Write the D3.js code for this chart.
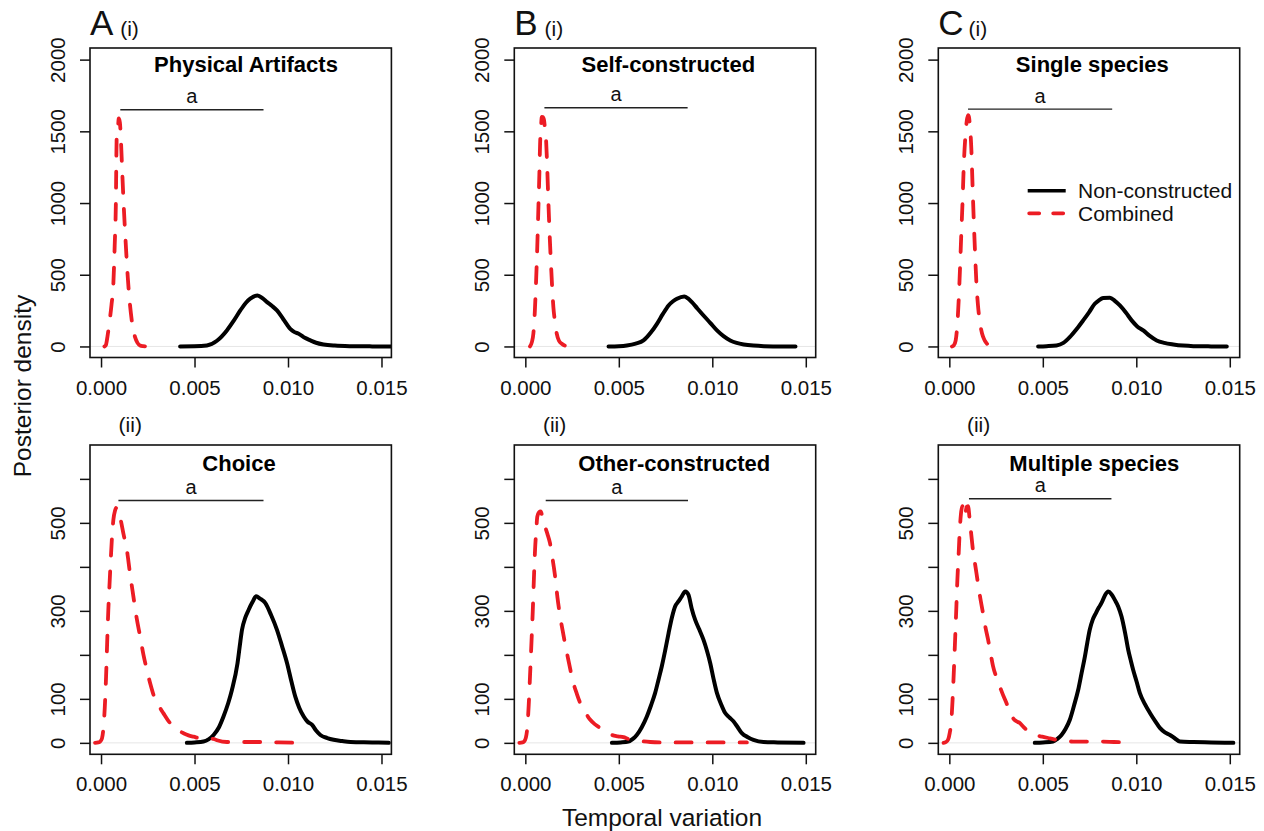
<!DOCTYPE html>
<html>
<head>
<meta charset="utf-8">
<script src="https://cdn.jsdelivr.net/npm/d3@7"></script>
<style>
  html, body { margin: 0; padding: 0; background: #fff; }
  svg { display: block; font-family: "Liberation Sans", Arial, Helvetica, sans-serif; }
</style>
</head>
<body>
<svg id="chart" width="1264" height="831"></svg>
<script>
// ---------------- DATA ----------------
const xTicks = [0, 0.005, 0.010, 0.015];
const yTicksTop = [0, 500, 1000, 1500, 2000];
const yTicksBottom = [0, 100, 200, 300, 400, 500, 600];
const yLabelsBottom = [0, 100, 300, 500];

const panelLetters = ["A", "B", "C"];
const rowTags = ["(i)", "(ii)"];
const titlesTop = ["Physical Artifacts", "Self-constructed", "Single species"];
const titlesBottom = ["Choice", "Other-constructed", "Multiple species"];
const seriesNames = ["Non-constructed", "Combined"];
const xTitle = "Temporal variation";
const yTitle = "Posterior density";
const sigLetter = "a";

// Combined (red dashed) posterior densities: [x, density]
const combinedA1 = [[0.00018,0],[0.00026,10],[0.00034,65],[0.00044,160],[0.00056,290],[0.00066,438],[0.00073,700],[0.00079,973],[0.00084,1462],[0.00088,1475],[0.00095,1590],[0.00101,1560],[0.00107,1420],[0.00113,1230],[0.0012,1020],[0.00132,720],[0.00143,484],[0.00152,330],[0.0016,228],[0.0017,130],[0.00182,65],[0.00195,25],[0.00209,7],[0.00225,2],[0.00245,0]];
const combinedB1 = [[0.00025,0],[0.00035,30],[0.00043,89],[0.00051,250],[0.00057,438],[0.00064,700],[0.0007,973],[0.00075,1200],[0.00079,1415],[0.00084,1530],[0.00088,1601],[0.00094,1600],[0.001,1578],[0.00105,1520],[0.00111,1438],[0.00117,1250],[0.00123,1020],[0.0013,780],[0.00138,554],[0.00144,400],[0.0015,274],[0.00159,170],[0.00168,89],[0.0018,40],[0.00195,19],[0.0021,7],[0.0023,2],[0.00275,0]];
const combinedC1 = [[0.00014,0],[0.00025,10],[0.00034,42],[0.00042,140],[0.0005,321],[0.00057,540],[0.00064,787],[0.00071,1020],[0.00077,1253],[0.00087,1485],[0.00093,1570],[0.001,1613],[0.00105,1600],[0.00109,1555],[0.00118,1369],[0.00124,1130],[0.0013,904],[0.00138,640],[0.00145,438],[0.00153,290],[0.00162,182],[0.00175,90],[0.00189,42],[0.00205,15],[0.00225,5],[0.00269,0]];
const combinedA2 = [[-0.00032,0],[-0.00015,1],[-0.00005,3],[0.00005,10],[0.00012,30],[0.0002,80],[0.00027,151],[0.00033,230],[0.00039,302],[0.00046,365],[0.00052,416],[0.00059,470],[0.00066,507],[0.00075,528],[0.00084,535],[0.00093,525],[0.00105,507],[0.0012,475],[0.00138,439],[0.00155,385],[0.00173,333],[0.0019,285],[0.00209,242],[0.00227,200],[0.00245,166],[0.00265,132],[0.00284,105],[0.00308,85],[0.00334,67],[0.0036,50],[0.00388,37],[0.00415,28],[0.00441,22],[0.00468,17],[0.00495,14],[0.0053,10],[0.00566,8],[0.006,9],[0.0062,6],[0.00673,2],[0.0075,2],[0.00852,2],[0.0095,1],[0.01102,0]];
const combinedB2 = [[-0.00032,0],[-0.00015,1],[-0.00007,3],[0.00003,12],[0.00011,37],[0.00018,85],[0.00025,151],[0.00033,230],[0.0004,302],[0.00046,375],[0.00052,439],[0.00058,480],[0.00064,514],[0.00073,524],[0.00082,526],[0.00093,510],[0.00105,492],[0.00118,475],[0.00132,454],[0.00145,420],[0.00159,379],[0.00172,330],[0.00186,288],[0.00204,245],[0.00222,205],[0.0024,168],[0.00257,136],[0.00275,112],[0.00293,91],[0.0032,70],[0.00346,53],[0.00373,42],[0.004,34],[0.0043,26],[0.00463,18],[0.00495,15],[0.00525,13],[0.0055,9],[0.00578,7],[0.0062,4],[0.00668,2],[0.0075,1],[0.00864,1],[0.01,1],[0.01185,1]];
const combinedC2 = [[-0.00031,0],[-0.00018,2],[-0.00007,7],[0.00002,22],[0.00011,52],[0.00017,95],[0.00023,151],[0.0003,225],[0.00037,302],[0.00043,370],[0.0005,431],[0.00056,485],[0.00062,520],[0.0007,538],[0.00077,530],[0.00084,515],[0.00092,536],[0.001,538],[0.00109,507],[0.00117,475],[0.00126,439],[0.0014,400],[0.00153,363],[0.00166,328],[0.0018,295],[0.00193,263],[0.00207,235],[0.0022,205],[0.00234,174],[0.00251,150],[0.00269,129],[0.00287,109],[0.00305,91],[0.00323,72],[0.00341,56],[0.00359,49],[0.00377,45],[0.00395,37],[0.00412,30],[0.00439,22],[0.00466,17],[0.00497,14],[0.00528,11],[0.0056,8],[0.00591,6],[0.00625,4],[0.00662,3],[0.0073,3],[0.00805,3],[0.0088,2],[0.00948,1]];

// Non-constructed (black solid) posterior densities: [x, density]
const nonConA1 = [[0.00423,0],[0.005,1],[0.00566,7],[0.0062,40],[0.00673,112],[0.0071,180],[0.00745,251],[0.00775,305],[0.00798,333],[0.00837,356],[0.00865,335],[0.00888,309],[0.00915,282],[0.00941,251],[0.00975,190],[0.01012,123],[0.01035,100],[0.01057,89],[0.0109,60],[0.0112,42],[0.0115,26],[0.0119,14],[0.0125,6],[0.01334,2],[0.0145,0.5],[0.0158,0]];
const nonConB1 = [[0.00445,0],[0.005,2],[0.00543,7],[0.0059,20],[0.00632,42],[0.0067,95],[0.00704,158],[0.00735,225],[0.00766,286],[0.0079,315],[0.00811,333],[0.0085,349],[0.0087,335],[0.00891,309],[0.0092,265],[0.00953,216],[0.0099,163],[0.01025,112],[0.0106,72],[0.01096,42],[0.0113,25],[0.01168,14],[0.0122,6],[0.01275,2],[0.0135,0.5],[0.01445,0]];
const nonConC1 = [[0.00475,0],[0.0052,2],[0.00573,7],[0.0061,25],[0.00644,65],[0.0068,120],[0.00716,182],[0.00748,240],[0.00778,298],[0.008,322],[0.00823,338],[0.00859,340],[0.00885,318],[0.00912,286],[0.00945,235],[0.00975,182],[0.01005,140],[0.01037,112],[0.0107,75],[0.01109,42],[0.0115,25],[0.01198,14],[0.0125,6],[0.01305,2],[0.014,0.5],[0.01484,0]];
const nonConA2 = [[0.00459,0],[0.005,1],[0.00548,3],[0.00575,8],[0.00602,18],[0.0063,35],[0.00655,60],[0.0068,90],[0.007,120],[0.0073,181],[0.00745,230],[0.00754,257],[0.00772,285],[0.00789,302],[0.0081,320],[0.0083,333],[0.0085,328],[0.00878,318],[0.0091,290],[0.00941,257],[0.00968,220],[0.00995,181],[0.01018,140],[0.01039,105],[0.0106,80],[0.01084,60],[0.01105,48],[0.01129,41],[0.0115,28],[0.01173,18],[0.0121,11],[0.01244,7],[0.0129,4],[0.01334,2],[0.0145,1],[0.01539,0]];
const nonConB2 = [[0.00463,0],[0.0051,1],[0.00551,3],[0.00575,9],[0.00596,18],[0.00622,35],[0.0065,60],[0.00672,85],[0.00694,113],[0.00712,143],[0.0073,174],[0.00748,210],[0.00766,249],[0.00784,285],[0.00801,310],[0.0082,322],[0.00837,333],[0.00855,344],[0.00864,342],[0.00873,336],[0.0089,305],[0.00908,280],[0.0093,258],[0.00953,234],[0.00971,210],[0.00989,181],[0.01007,145],[0.01025,113],[0.01047,88],[0.01069,68],[0.01091,58],[0.01113,49],[0.01135,36],[0.01158,22],[0.0119,13],[0.0122,7],[0.01274,2],[0.0135,1],[0.01488,0]];
const nonConC2 = [[0.00457,0],[0.005,1],[0.00555,3],[0.00578,9],[0.006,18],[0.00622,32],[0.00644,52],[0.00667,85],[0.00689,120],[0.00707,158],[0.00725,196],[0.00738,228],[0.00751,257],[0.00767,280],[0.00784,295],[0.008,308],[0.00814,318],[0.00832,335],[0.0085,344],[0.00867,338],[0.00885,325],[0.00903,310],[0.00921,287],[0.0094,250],[0.00957,211],[0.0097,188],[0.00983,166],[0.01001,140],[0.01019,113],[0.01046,88],[0.01073,68],[0.011,50],[0.01126,34],[0.01153,24],[0.0118,18],[0.01207,10],[0.01233,3],[0.01305,2],[0.014,1],[0.01519,0]];

// Significance bars: [x start, x end, density level]
const sigBarsTop = [[0.00103,0.00869,1650],[0.00102,0.00868,1664],[0.00100,0.00871,1655]];
const sigBarsBottom = [[0.00093,0.00869,551],[0.00109,0.00870,551],[0.00105,0.00867,555]];

// ---------------- LAYOUT ----------------
const FONT = '"Liberation Sans", Arial, Helvetica, sans-serif';
const RED = "#ec1c24";
const DASH = "16,16";
const colLeft = [90, 514.3, 938.3];
const boxW = 301.4;
const rows = [
  { top: 48, bottom: 357.5, yDomain: [-77, 2081], ticks: yTicksTop, labels: yTicksTop,
    titles: titlesTop, titleBase: 71.7, titleDx: [156, 154, 154],
    combined: [combinedA1, combinedB1, combinedC1], nonCon: [nonConA1, nonConB1, nonConC1],
    bars: sigBarsTop, tagBase: 35.6, tagDx: 30.2 },
  { top: 445, bottom: 754.3, yDomain: [-26, 677], ticks: yTicksBottom, labels: yLabelsBottom,
    titles: titlesBottom, titleBase: 471, titleDx: [149, 160, 156],
    combined: [combinedA2, combinedB2, combinedC2], nonCon: [nonConA2, nonConB2, nonConC2],
    bars: sigBarsBottom, tagBase: 432.3, tagDx: 28.6 }
];
const xDomain = [-0.00059, 0.01553];

const svg = d3.select("#chart");
const defs = svg.append("defs");
const fmt = d3.format(".3f");

rows.forEach((row, r) => {
  colLeft.forEach((left, c) => {
    const x = d3.scaleLinear().domain(xDomain).range([left, left + boxW]);
    const y = d3.scaleLinear().domain(row.yDomain).range([row.bottom, row.top]);
    const g = svg.append("g");
    const clipId = `clip-${r}-${c}`;
    defs.append("clipPath").attr("id", clipId)
      .append("rect").attr("x", left).attr("y", row.top)
      .attr("width", boxW).attr("height", row.bottom - row.top);

    // zero reference line
    g.append("line")
      .attr("x1", left).attr("x2", left + boxW)
      .attr("y1", y(0)).attr("y2", y(0))
      .attr("stroke", "#e6e6e6").attr("stroke-width", 1);

    // curves
    const line = d3.line().x(d => x(d[0])).y(d => y(d[1])).curve(d3.curveMonotoneX);
    const cg = g.append("g").attr("clip-path", `url(#${clipId})`);
    cg.append("path").datum(row.nonCon[c]).attr("d", line)
      .attr("fill", "none").attr("stroke", "#000").attr("stroke-width", 4)
      .attr("stroke-linejoin", "round").attr("stroke-linecap", "round");
    cg.append("path").datum(row.combined[c]).attr("d", line)
      .attr("fill", "none").attr("stroke", RED).attr("stroke-width", 3.8)
      .attr("stroke-dasharray", DASH)
      .attr("stroke-linejoin", "round").attr("stroke-linecap", "round");

    // box
    g.append("rect").attr("x", left).attr("y", row.top)
      .attr("width", boxW).attr("height", row.bottom - row.top)
      .attr("fill", "none").attr("stroke", "#111").attr("stroke-width", 1.6);

    // x axis
    const xAxis = d3.axisBottom(x).tickValues(xTicks).tickFormat(fmt)
      .tickSize(10).tickPadding(12.5);
    const xg = svg.append("g").attr("transform", `translate(0,${row.bottom})`).call(xAxis);
    xg.select(".domain").remove();
    xg.selectAll(".tick line").attr("stroke", "#111").attr("stroke-width", 1.5);
    xg.selectAll(".tick text").attr("font-size", 20.5).attr("font-family", FONT).attr("fill", "#111");

    // y axis
    const yAxis = d3.axisLeft(y).tickValues(row.ticks)
      .tickFormat(d => row.labels.includes(d) ? d3.format("d")(d) : "")
      .tickSize(10);
    const yg = svg.append("g").attr("transform", `translate(${left},0)`).call(yAxis);
    yg.select(".domain").remove();
    yg.selectAll(".tick line").attr("stroke", "#111").attr("stroke-width", 1.5);
    yg.selectAll(".tick text")
      .attr("transform", "rotate(-90)")
      .attr("x", 0).attr("y", -25).attr("dy", null)
      .attr("text-anchor", "middle")
      .attr("font-size", 20.5).attr("font-family", FONT).attr("fill", "#111");

    // title
    g.append("text").attr("x", left + row.titleDx[c]).attr("y", row.titleBase)
      .attr("text-anchor", "middle").attr("font-weight", "bold")
      .attr("font-size", 22).attr("fill", "#000").text(row.titles[c]);

    // significance bar
    const b = row.bars[c];
    g.append("line").attr("x1", x(b[0])).attr("x2", x(b[1]))
      .attr("y1", y(b[2])).attr("y2", y(b[2]))
      .attr("stroke", "#222").attr("stroke-width", 1.4);
    g.append("text").attr("x", x((b[0] + b[1]) / 2)).attr("y", y(b[2]) - 6.4)
      .attr("text-anchor", "middle").attr("font-size", 20).attr("fill", "#111")
      .text(sigLetter);

    // panel letter and row tag
    if (r === 0) {
      g.append("text").attr("x", left).attr("y", 35)
        .attr("font-size", 35).attr("fill", "#111").text(panelLetters[c]);
    }
    g.append("text").attr("x", left + row.tagDx).attr("y", row.tagBase)
      .attr("font-size", 21).attr("fill", "#111").text(rowTags[r]);

    // legend (panel C, top row)
    if (r === 0 && c === 2) {
      const lx0 = 1027.7, lx1 = 1065.7, ly = [190.7, 213.3];
      g.append("line").attr("x1", lx0).attr("x2", lx1).attr("y1", ly[0]).attr("y2", ly[0])
        .attr("stroke", "#000").attr("stroke-width", 3.5);
      g.append("line").attr("x1", lx0 + 1.5).attr("x2", lx1).attr("y1", ly[1]).attr("y2", ly[1])
        .attr("stroke", RED).attr("stroke-width", 3.8).attr("stroke-dasharray", "10,14")
        .attr("stroke-linecap", "round");
      seriesNames.forEach((name, i) => {
        g.append("text").attr("x", 1078).attr("y", ly[i] + 7.6)
          .attr("font-size", 21).attr("fill", "#111").text(name);
      });
    }
  });
});

// shared axis titles
svg.append("text").attr("x", 662).attr("y", 826)
  .attr("text-anchor", "middle").attr("font-size", 24.5).attr("fill", "#111").text(xTitle);
svg.append("text").attr("transform", "translate(30.8,386) rotate(-90)")
  .attr("text-anchor", "middle").attr("font-size", 24.5).attr("fill", "#111").text(yTitle);
</script>
</body>
</html>
